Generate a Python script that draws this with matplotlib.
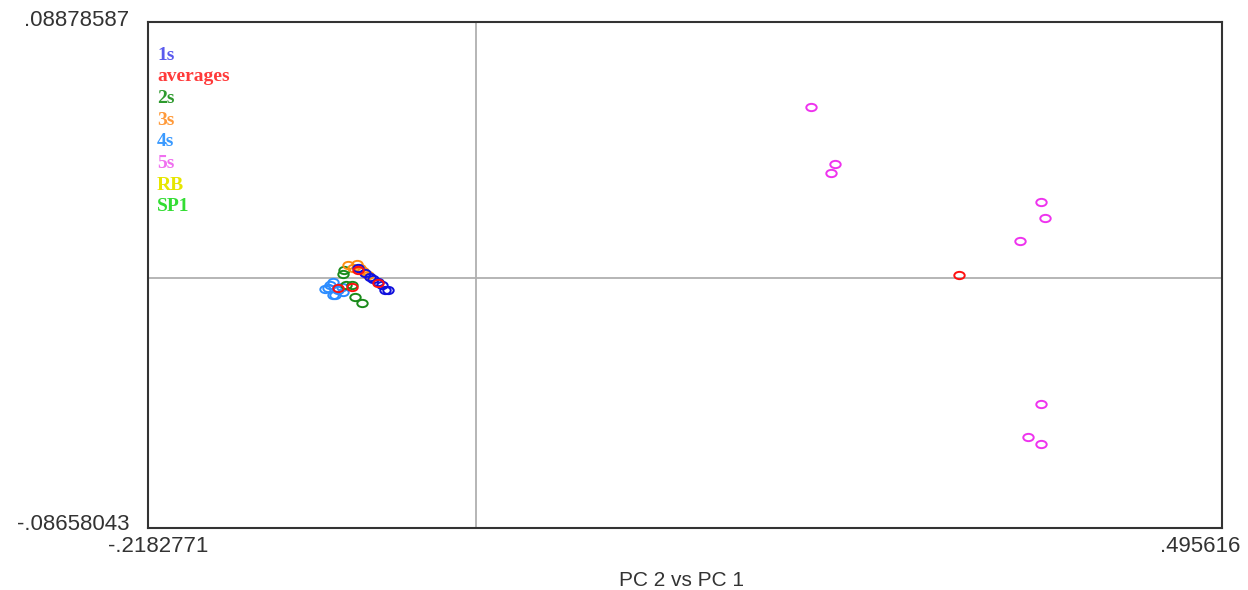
import numpy as np
import matplotlib
matplotlib.use("Agg")
import matplotlib.pyplot as plt
from matplotlib.path import Path
from matplotlib.transforms import Affine2D

## Axis limits of the score plot
x_min, x_max = -0.2182771, 0.495616
y_min, y_max = -0.08658043, 0.08878587

## PCA scores (PC 1, PC 2) per group
x_1s = [-0.0787, -0.0740, -0.0707, -0.0687, -0.0654, -0.0627, -0.0608, -0.0588]
y_1s = [0.0035, 0.0018, 0.0004, -0.0003, -0.0013, -0.0024, -0.0041, -0.0041]

x_2s = [-0.0887, -0.0880, -0.0867, -0.0827, -0.0807, -0.0760]
y_2s = [0.0015, 0.0028, -0.0024, -0.0024, -0.0065, -0.0086]

x_3s = [-0.0853, -0.0794, -0.0820, -0.0774, -0.0754, -0.0721]
y_3s = [0.0046, 0.0049, 0.0035, 0.0035, 0.0025, 0.0011]

x_4s = [-0.1006, -0.0973, -0.0953, -0.0986, -0.0920, -0.0953, -0.0893, -0.0887, -0.0940]
y_4s = [-0.0037, -0.0024, -0.0013, -0.0034, -0.0041, -0.0058, -0.0030, -0.0048, -0.0058]

x_5s = [0.2224, 0.2384, 0.2357, 0.3753, 0.3780, 0.3613, 0.3753, 0.3667, 0.3753]
y_5s = [0.0593, 0.0396, 0.0364, 0.0264, 0.0208, 0.0129, -0.0436, -0.0550, -0.0575]

x_avg = [-0.0920, -0.0827, -0.0787, -0.0654, 0.3208]
y_avg = [-0.0034, -0.0030, 0.0028, -0.0017, 0.0011]

x_rb, y_rb = [], []
x_sp1, y_sp1 = [], []

labels = ["1s", "averages", "2s", "3s", "4s", "5s", "RB", "SP1"]
label_colors = ["#5a5aee", "#ff3a3a", "#2e9a2e", "#ff9a3a", "#3a9aff",
                "#f070f0", "#e6e600", "#33dd33"]

## Series: (x, y, marker colour)
series = [
    (x_4s, y_4s, "#2b8cff"),
    (x_2s, y_2s, "#1a8a1a"),
    (x_3s, y_3s, "#ff8c10"),
    (x_1s, y_1s, "#1010dd"),
    (x_5s, y_5s, "#ee33ee"),
    (x_rb, y_rb, "#e6e600"),
    (x_sp1, y_sp1, "#33dd33"),
    (x_avg, y_avg, "#ff1010"),
]

# flattened open circle used as the point marker
ellipse = Path.unit_circle().transformed(Affine2D().scale(1.0, 0.7))

fig = plt.figure(figsize=(12.48, 5.90), dpi=100)
W, H = 1248, 590
ax = fig.add_axes([148 / W, 1 - 528 / H, (1222 - 148) / W, (528 - 22) / H])

ax.axvline(0, color="#b0b0b0", lw=1.3, zorder=1)
ax.axhline(0, color="#b0b0b0", lw=1.3, zorder=1)

for xs, ys, c in series:
    ax.plot(xs, ys, linestyle="none", marker=ellipse, markersize=7.5,
            markerfacecolor="none", markeredgecolor=c, markeredgewidth=1.4, zorder=3)

ax.set_xlim(x_min, x_max)
ax.set_ylim(y_min, y_max)
ax.set_xticks([])
ax.set_yticks([])
for sp in ax.spines.values():
    sp.set_color("#333333")
    sp.set_linewidth(1.5)

## Group labels in the top-left corner
for i, (lab, col) in enumerate(zip(labels, label_colors)):
    fig.text(157 / W, 1 - (55 + 21.7 * i) / H, lab, color=col, fontsize=14,
             family="Liberation Serif", fontweight="bold", ha="left", va="center")

## Range labels at the corners
tick_font = dict(family="Liberation Sans", fontsize=16, color="#333333")
fig.text(129 / W, 1 - 20 / H, ".08878587", ha="right", va="center", **tick_font)
fig.text(130 / W, 1 - 525 / H, "-.08658043", ha="right", va="center", **tick_font)
fig.text(158 / W, 1 - 546 / H, "-.2182771", ha="center", va="center", **tick_font)
fig.text(1200 / W, 1 - 546 / H, ".495616", ha="center", va="center", **tick_font)

fig.text(682 / W, 1 - 580 / H, "PC 2 vs PC 1", ha="center", va="center",
         family="Liberation Sans", fontsize=15, color="#333333")

fig.savefig("out.png", dpi=100, facecolor="white")
